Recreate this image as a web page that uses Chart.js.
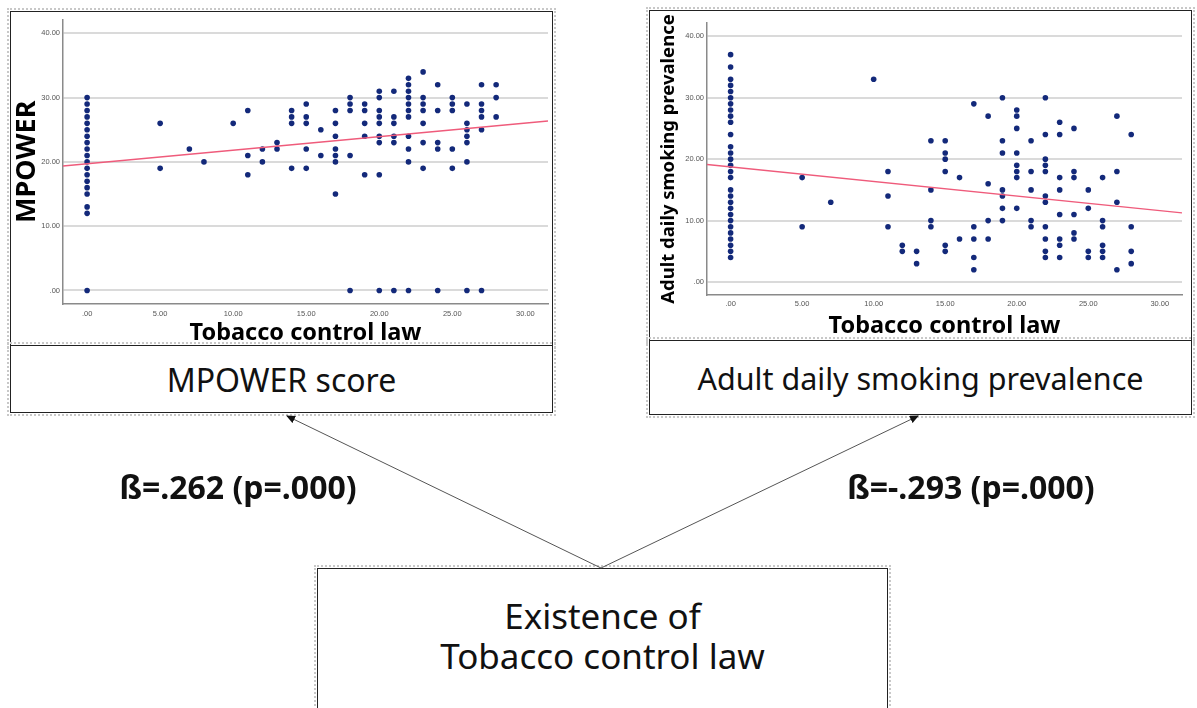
<!DOCTYPE html>
<html>
<head>
<meta charset="utf-8">
<script src="https://cdn.jsdelivr.net/npm/chart.js@4.4.0/dist/chart.umd.min.js"></script>
<style>
  body { margin: 0; background: #fff; width: 1197px; height: 708px; overflow: hidden; position: relative; font-family: 'Noto Sans', sans-serif; color: #111; }
  .box { position: absolute; box-sizing: border-box; border: 1.5px solid #222; outline: 2px dotted #c8c8c8; outline-offset: 1px; background: #fff; }
  .label { display: flex; align-items: center; justify-content: center; text-align: center; }
  canvas { position: absolute; }
  .beta { position: absolute; font-weight: bold; font-size: 32px; text-align: center; white-space: nowrap; height: 36px; line-height: 36px; }
  svg { position: absolute; left: 0; top: 0; }
</style>
</head>
<body>

<div class="box" style="left:10px; top:11px; width:543px; height:335px;"></div>
<div class="box label" style="left:10px; top:345px; width:543px; height:68px; font-size:32px;">MPOWER score</div>

<div class="box" style="left:649px; top:10px; width:543px; height:331px;"></div>
<div class="box label" style="left:649px; top:340px; width:543px; height:75px; font-size:30.5px;">Adult daily smoking prevalence</div>

<div class="box label" style="left:317px; top:568px; width:571px; height:170px; font-size:35px; line-height:40px; align-items:flex-start; padding-top:27px;">Existence of<br>Tobacco control law</div>

<canvas id="mpowerChart" width="541" height="332" style="left:11px; top:12px;"></canvas>
<canvas id="smokingChart" width="541" height="328" style="left:650px; top:11px;"></canvas>

<svg width="1197" height="708">
  <defs>
    <marker id="head" markerWidth="9" markerHeight="8" refX="8" refY="4" orient="auto" markerUnits="userSpaceOnUse">
      <path d="M0,0 L9,4 L0,8 z" fill="#111"/>
    </marker>
  </defs>
  <line x1="601" y1="568" x2="287" y2="416" stroke="#555" stroke-width="1" marker-end="url(#head)"/>
  <line x1="601" y1="568" x2="918" y2="416" stroke="#555" stroke-width="1" marker-end="url(#head)"/>
</svg>

<div class="beta" style="left:88px; top:469px; width:300px;">ß=.262 (p=.000)</div>
<div class="beta" style="left:821px; top:469px; width:300px;">ß=-.293 (p=.000)</div>

<script>
// tick values shared by both scatter plots
const xTicks = [0, 5, 10, 15, 20, 25, 30];
const yTicks = [0, 10, 20, 30, 40];

// left plot: tobacco control law score -> MPOWER
const mpowerLaw = [0, 5, 7, 8, 10, 11, 12, 13, 14, 15, 16, 17, 18, 19, 20, 21, 22, 23, 24, 25, 26, 27, 28];
const mpowerValues = [
  [30, 29, 28, 27, 26, 25, 24, 23, 22, 21, 20, 19, 18, 17, 16, 15, 13, 12, 0],
  [26, 19],
  [22],
  [20],
  [26],
  [28, 21, 18],
  [22, 20],
  [23, 22],
  [28, 27, 26, 19],
  [29, 27, 26, 22, 19],
  [25, 21],
  [28, 26, 24, 22, 21, 20, 15],
  [30, 29, 28, 21, 0],
  [29, 28, 26, 24, 18],
  [31, 30, 28, 27, 26, 24, 23, 18, 0],
  [31, 27, 26, 24, 23, 0],
  [33, 32, 31, 30, 29, 28, 27, 24, 22, 20, 0],
  [34, 30, 29, 28, 26, 23, 19],
  [32, 28, 23, 22, 0],
  [30, 29, 28, 22, 19],
  [29, 26, 25, 24, 23, 20, 0],
  [32, 29, 28, 27, 25, 0],
  [32, 30, 27]
];
const mpowerFitX = [-1.65, 31.55];
const mpowerFitY = [19.36, 26.36];

// right plot: tobacco control law score -> adult daily smoking prevalence
const smokingLaw = [0, 5, 7, 10, 11, 12, 13, 14, 15, 16, 17, 18, 19, 20, 21, 22, 23, 24, 25, 26, 27, 28];
const smokingValues = [
  [37, 35, 33, 32, 31, 30, 29, 28, 27, 26, 24, 22, 21, 20, 19, 18, 17, 15, 14, 13, 12, 11, 10, 9, 8, 7, 6, 5, 4],
  [17, 9],
  [13],
  [33],
  [18, 14, 9],
  [6, 5],
  [5, 3],
  [23, 15, 10, 9],
  [23, 21, 20, 18, 6, 5],
  [17, 7],
  [29, 9, 7, 4, 2],
  [27, 16, 10, 7],
  [30, 23, 21, 15, 14, 12, 10],
  [28, 27, 25, 21, 19, 18, 17, 12],
  [23, 18, 15, 10, 9],
  [30, 24, 20, 19, 18, 14, 13, 9, 7, 5, 4],
  [26, 24, 17, 15, 11, 7, 6, 4],
  [25, 18, 17, 11, 8, 7],
  [15, 12, 5, 4],
  [17, 10, 9, 6, 5, 4],
  [27, 18, 13, 2],
  [24, 9, 5, 3]
];
const smokingFitX = [-1.65, 31.55];
const smokingFitY = [19.13, 11.27];

function fmtTick(v) {
  return v === 0 ? '.00' : v.toFixed(2);
}

function buildScatter(id, law, values, fitX, fitY, cfg) {
  const points = law.flatMap((lx, i) => values[i].map(v => ({ x: lx, y: v })));
  const fit = fitX.map((fx, i) => ({ x: fx, y: fitY[i] }));
  const tickFont = { family: 'Liberation Sans', size: 7.5 };

  return new Chart(document.getElementById(id), {
    type: 'scatter',
    data: {
      datasets: [
        { data: fit, showLine: true, borderColor: '#ef5b7b', borderWidth: 1.3, pointRadius: 0, order: 0 },
        { data: points, backgroundColor: '#13297a', pointRadius: 2.8, borderWidth: 0, order: 1 }
      ]
    },
    options: {
      responsive: false,
      animation: false,
      devicePixelRatio: 1,
      layout: { padding: { top: cfg.padTop, right: cfg.padRight, left: 0, bottom: 0 } },
      plugins: { legend: { display: false }, tooltip: { enabled: false } },
      scales: {
        x: {
          type: 'linear',
          min: -1.65,
          max: 31.55,
          afterBuildTicks: s => { s.ticks = xTicks.map(v => ({ value: v })); },
          afterFit: s => { s.height = cfg.xHeight; },
          grid: { display: false, drawTicks: false },
          border: { display: true, color: '#8a8a8a', width: 1.5 },
          ticks: { font: tickFont, color: '#555', padding: cfg.xTickPad, callback: fmtTick, maxRotation: 0 },
          title: {
            display: true,
            text: 'Tobacco control law',
            color: '#000',
            font: { family: 'Noto Sans', size: 23.5, weight: 'bold', lineHeight: 1 },
            padding: { top: 0, bottom: cfg.xTitlePad }
          }
        },
        y: {
          min: -2.1,
          max: 42.15,
          afterBuildTicks: s => { s.ticks = yTicks.map(v => ({ value: v })); },
          afterFit: s => { s.width = cfg.yWidth; },
          grid: { color: '#dadada', lineWidth: 2, drawTicks: false },
          border: { display: true, color: '#8a8a8a', width: 1.5 },
          ticks: { font: tickFont, color: '#555', padding: 3, callback: fmtTick },
          title: {
            display: true,
            text: cfg.yTitle,
            color: '#000',
            font: { family: 'Noto Sans', size: cfg.yTitleSize, weight: 'bold', lineHeight: 1 },
            padding: { top: cfg.yTitlePad, bottom: 0 }
          }
        }
      }
    }
  });
}

buildScatter('mpowerChart', mpowerLaw, mpowerValues, mpowerFitX, mpowerFitY, {
  padTop: 7, padRight: 2, xHeight: 40, yWidth: 52, xTickPad: 5, xTitlePad: -1,
  yTitle: 'MPOWER', yTitleSize: 27, yTitlePad: 3
});

buildScatter('smokingChart', smokingLaw, smokingValues, smokingFitX, smokingFitY, {
  padTop: 12, padRight: 9, xHeight: 44, yWidth: 57, xTickPad: 4, xTitlePad: 1,
  yTitle: 'Adult daily smoking prevalence', yTitleSize: 18.5, yTitlePad: 9
});
</script>
</body>
</html>
